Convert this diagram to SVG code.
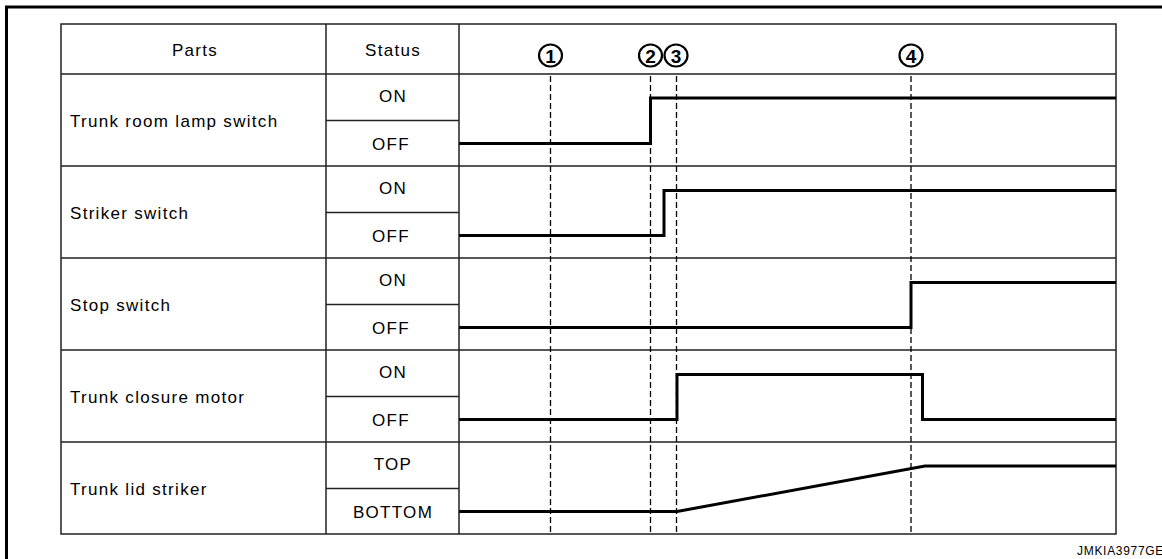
<svg xmlns="http://www.w3.org/2000/svg" width="1162" height="559" viewBox="0 0 1162 559">
<style>
.frame{fill:none;stroke:#000;stroke-width:3}
.grid{fill:none;stroke:#222;stroke-width:1.5}
.dash{fill:none;stroke:#000;stroke-width:1.3;stroke-dasharray:6 3}
.sig{fill:none;stroke:#000;stroke-width:3;stroke-linejoin:miter}
.t{font-family:"Liberation Sans",Arial,sans-serif;font-size:17px;letter-spacing:1.3px;fill:#000}
.c{text-anchor:middle}
.num{font-family:"Liberation Sans",Arial,sans-serif;font-size:19px;font-weight:bold;text-anchor:middle;fill:#000}
.circ{fill:none;stroke:#000;stroke-width:2.2}
.code{font-family:"Liberation Sans",Arial,sans-serif;font-size:12px;letter-spacing:0.7px;fill:#000}
</style>
<rect width="1162" height="559" fill="#fff"/>
<path class="frame" d="M6.5,559 V7 H1162"/>
<g id="table">
<rect class="grid" x="61" y="24" width="1055" height="510"/>
<path class="grid" d="M326,24 V534 M459,24 V534 M61,74 H1116 M61,166 H1116 M61,258 H1116 M61,350 H1116 M61,442 H1116 M326,120.5 H459 M326,212.5 H459 M326,304.5 H459 M326,396.5 H459 M326,488.5 H459"/>
<text class="t c" x="195" y="55.5">Parts</text>
<text class="t c" x="393" y="55.5">Status</text>
</g>
<g id="markers">
<ellipse class="circ" cx="550.5" cy="55.5" rx="11.5" ry="11"/><text class="num" x="550.5" y="62.5">1</text>
<ellipse class="circ" cx="650.5" cy="55.5" rx="11.5" ry="11"/><text class="num" x="650.5" y="62.5">2</text>
<ellipse class="circ" cx="676" cy="55.5" rx="11.5" ry="11"/><text class="num" x="676" y="62.5">3</text>
<ellipse class="circ" cx="911" cy="55.5" rx="11.5" ry="11"/><text class="num" x="911" y="62.5">4</text>
</g>
<g id="connectors">
<path class="dash" d="M550.5,76 V534 M650.5,76 V534 M676.5,76 V534 M911,76 V534"/>
</g>
<g id="row-trunk-room-lamp-switch">
<text class="t" x="70" y="127">Trunk room lamp switch</text>
<text class="t c" x="393" y="102">ON</text>
<text class="t c" x="391" y="149.5">OFF</text>
<path class="sig" d="M459,143.5 H650.5 V98 H1116"/>
</g>
<g id="row-striker-switch">
<text class="t" x="70" y="219">Striker switch</text>
<text class="t c" x="393" y="194">ON</text>
<text class="t c" x="391" y="241.5">OFF</text>
<path class="sig" d="M459,235.5 H664 V190.5 H1116"/>
</g>
<g id="row-stop-switch">
<text class="t" x="70" y="311">Stop switch</text>
<text class="t c" x="393" y="286">ON</text>
<text class="t c" x="391" y="333.5">OFF</text>
<path class="sig" d="M459,327.5 H911 V282.5 H1116"/>
</g>
<g id="row-trunk-closure-motor">
<text class="t" x="70" y="403">Trunk closure motor</text>
<text class="t c" x="393" y="378">ON</text>
<text class="t c" x="391" y="425.5">OFF</text>
<path class="sig" d="M459,419.5 H677 V374.5 H922.5 V419.5 H1116"/>
</g>
<g id="row-trunk-lid-striker">
<text class="t" x="70" y="495">Trunk lid striker</text>
<text class="t c" x="393" y="470">TOP</text>
<text class="t c" x="393" y="517.5">BOTTOM</text>
<path class="sig" d="M459,511.5 H677 L925,466 H1116"/>
</g>
<text class="code" x="1077" y="555">JMKIA3977GE</text>
</svg>
